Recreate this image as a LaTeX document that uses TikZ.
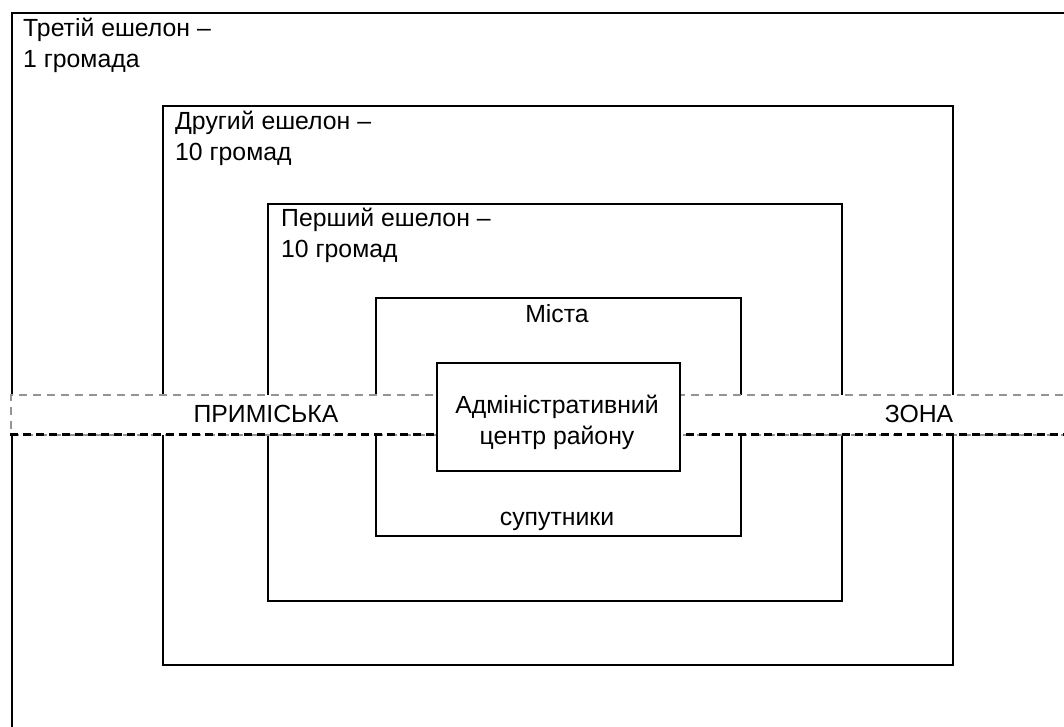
\documentclass[tikz,border=0pt]{standalone}
\usepackage{fontspec}
\setmainfont{Liberation Sans}
\begin{document}
\begin{tikzpicture}[x=1pt,y=-1pt,
  box/.style={draw,line width=2pt,inner sep=0pt,anchor=north west},
  lbl/.style={font=\fontsize{24.8}{31}\selectfont,inner sep=0pt,align=left},
  clbl/.style={font=\fontsize{24.8}{31}\selectfont,inner sep=0pt,align=center},
  bandtop/.style={draw=black!42,line width=1.5pt,dash pattern=on 8pt off 6pt},
  bandbot/.style={draw=black,line width=3pt,dash pattern=on 8pt off 5pt}]
\useasboundingbox (0,0) rectangle (1064,726);
% nested echelon frames
\node[box,minimum width=1100pt,minimum height=760pt] (r3) at (11,12) {};
\node[box,minimum width=790pt,minimum height=559pt] (r2) at (162,105) {};
\node[box,minimum width=574pt,minimum height=397pt] (r1) at (267,203) {};
\node[box,minimum width=365pt,minimum height=238pt] (cities) at (375,297) {};
% suburban band
\node[bandtop,fill=white,inner sep=0pt,anchor=north west,minimum width=1080pt,minimum height=40pt] (band) at (10,394) {};
\coordinate (bl) at (10,434);
\coordinate (br) at (1090,434);
\draw[bandbot] (bl) -- (br);
% centre
\node[box,fill=white,minimum width=243pt,minimum height=108pt] (admin) at (436,362) {};
% labels
\node[lbl,anchor=north west] (t3) at (23,18) {Третій ешелон –\\1 громада};
\node[lbl,anchor=north west] (t2) at (175,111) {Другий ешелон –\\10 громад};
\node[lbl,anchor=north west] (t1) at (281,208) {Перший ешелон –\\10 громад};
\node[clbl] (tc) at (557,314) {Міста};
\node[clbl] (ts) at (557,521) {супутники};
\node[clbl] (ta) at (557,422) {Адміністративний\\центр району};
\node[clbl] (tp) at (266,414) {ПРИМІСЬКА};
\node[clbl] (tz) at (919,414) {ЗОНА};
\end{tikzpicture}
\end{document}
